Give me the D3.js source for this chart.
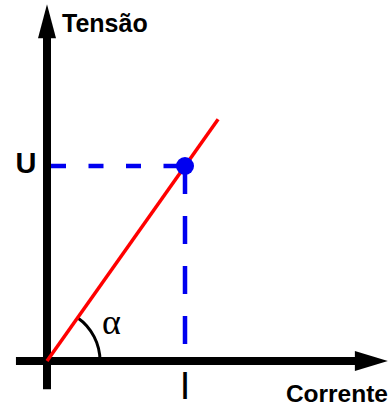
<!DOCTYPE html>
<html>
<head>
<meta charset="utf-8">
<script src="https://cdn.jsdelivr.net/npm/d3@7"></script>
<style>
  html, body { margin: 0; padding: 0; background: #fff; }
  svg { display: block; }
</style>
</head>
<body>
<div id="chart"></div>
<script>
  // data (arbitrary units: I = 1, U = 1)
  const currentRange = [-0.225, 2.47];   // horizontal axis extent
  const voltageRange = [-0.145, 1.83];   // vertical axis extent
  const lineCurrent = [0, 1.24];
  const lineVoltage = [0, 1.24];
  const pointCurrent = [1];
  const pointVoltage = [1];
  const axisLabels = ['Tensão', 'Corrente'];
  const tickLabels = ['U', 'I'];
  const angleLabel = 'α';

  const COLORS = { axis: '#000', line: '#f00', guide: '#0000f0' };
  const width = 389;
  const height = 407;

  const x = d3.scaleLinear().domain([0, 1]).range([47, 185]);
  const y = d3.scaleLinear().domain([0, 1]).range([361, 166]);

  const svg = d3.select('#chart').append('svg')
    .attr('width', width)
    .attr('height', height);

  // dashed guides
  svg.append('line')
    .attr('x1', x(0) + 4).attr('x2', x(pointCurrent[0]))
    .attr('y1', y(pointVoltage[0])).attr('y2', y(pointVoltage[0]))
    .attr('stroke', COLORS.guide).attr('stroke-width', 4.5)
    .attr('stroke-dasharray', '15,22.5');

  svg.append('line')
    .attr('x1', x(pointCurrent[0])).attr('x2', x(pointCurrent[0]))
    .attr('y1', y(pointVoltage[0])).attr('y2', y(0))
    .attr('stroke', COLORS.guide).attr('stroke-width', 4.5)
    .attr('stroke-dasharray', '28,22');

  // axes
  const xEnd = x(currentRange[1]);
  const yEnd = y(voltageRange[1]);
  svg.append('line')
    .attr('x1', x(currentRange[0])).attr('x2', xEnd - 30)
    .attr('y1', y(0)).attr('y2', y(0))
    .attr('stroke', COLORS.axis).attr('stroke-width', 8);
  svg.append('path')
    .attr('d', `M${xEnd},${y(0)} L${xEnd - 33},${y(0) - 10} L${xEnd - 33},${y(0) + 10} Z`)
    .attr('fill', COLORS.axis);

  svg.append('line')
    .attr('x1', x(0)).attr('x2', x(0))
    .attr('y1', y(voltageRange[0])).attr('y2', yEnd + 30)
    .attr('stroke', COLORS.axis).attr('stroke-width', 8);
  svg.append('path')
    .attr('d', `M${x(0)},${yEnd} L${x(0) - 9},${yEnd + 34} L${x(0) + 9},${yEnd + 34} Z`)
    .attr('fill', COLORS.axis);

  // angle arc
  const angle = Math.atan2(y(0) - y(lineVoltage[1]), x(lineCurrent[1]) - x(0));
  const arc = d3.arc()
    .innerRadius(53).outerRadius(53)
    .startAngle(Math.PI / 2 - angle).endAngle(Math.PI / 2);
  svg.append('path')
    .attr('d', arc())
    .attr('transform', `translate(${x(0)},${y(0)})`)
    .attr('fill', 'none')
    .attr('stroke', COLORS.axis)
    .attr('stroke-width', 3);

  // red characteristic line
  const line = d3.line().x((d) => x(d[0])).y((d) => y(d[1]));
  svg.append('path')
    .attr('d', line(lineCurrent.map((c, i) => [c, lineVoltage[i]])))
    .attr('fill', 'none')
    .attr('stroke', COLORS.line)
    .attr('stroke-width', 3.5);

  svg.selectAll('.point')
    .data(pointCurrent)
    .enter()
    .append('circle')
    .attr('class', 'point')
    .attr('cx', (d) => x(d))
    .attr('cy', (d, i) => y(pointVoltage[i]))
    .attr('r', 9)
    .attr('fill', COLORS.guide);

  // labels
  const sans = 'Liberation Sans, Arial, sans-serif';
  svg.append('text')
    .attr('x', 62).attr('y', 32)
    .attr('font-family', sans).attr('font-weight', 'bold').attr('font-size', 25)
    .text(axisLabels[0]);
  svg.append('text')
    .attr('x', 388).attr('y', 401.5)
    .attr('text-anchor', 'end')
    .attr('font-family', sans).attr('font-weight', 'bold').attr('font-size', 24.5)
    .text(axisLabels[1]);

  svg.append('text')
    .attr('x', 26).attr('y', 173)
    .attr('text-anchor', 'middle')
    .attr('font-family', sans).attr('font-weight', 'bold').attr('font-size', 29)
    .text(tickLabels[0]);
  svg.append('text')
    .attr('x', x(pointCurrent[0])).attr('y', 399)
    .attr('text-anchor', 'middle')
    .attr('font-family', sans).attr('font-size', 38)
    .text(tickLabels[1]);

  svg.append('text')
    .attr('x', 102).attr('y', 334)
    .attr('font-family', 'Liberation Serif, Times New Roman, serif').attr('font-size', 36)
    .text(angleLabel);
</script>
</body>
</html>
